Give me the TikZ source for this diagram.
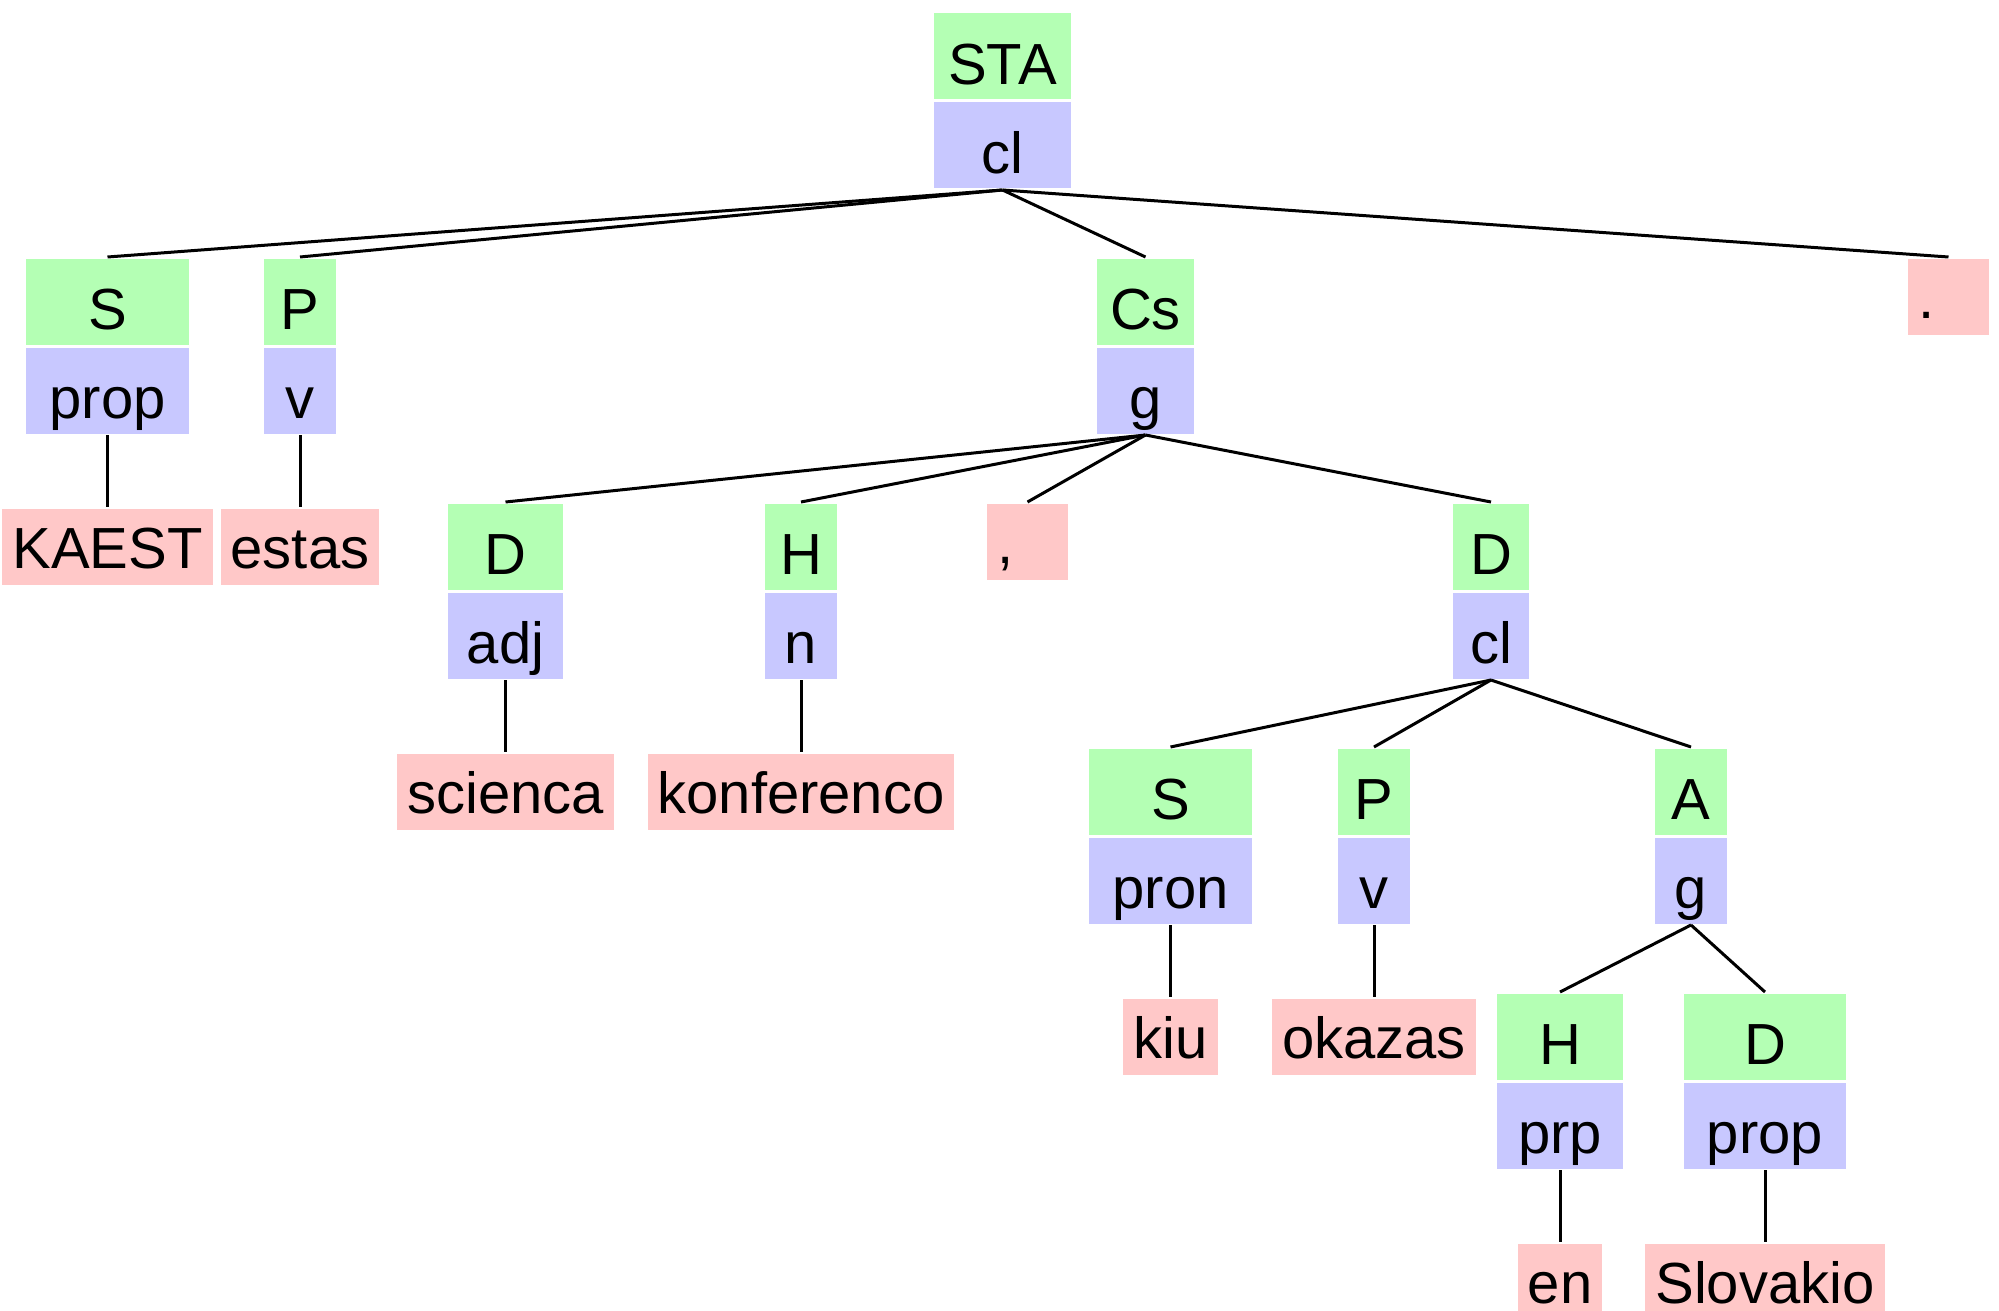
\documentclass[tikz,border=0pt]{standalone}
\usepackage{fontspec}
\setmainfont{Liberation Sans}
\usetikzlibrary{positioning}
\definecolor{FuncCol}{RGB}{180,255,180}
\definecolor{CatCol}{RGB}{200,200,255}
\definecolor{WordCol}{RGB}{255,200,200}
\tikzstyle{FuncNode}=[fill=FuncCol, anchor=north, minimum height=43pt, inner sep=0pt, text height=28pt, text depth=0pt]
\tikzstyle{CatNode}=[fill=CatCol, minimum height=43pt, inner sep=0pt, text height=28pt, text depth=0pt]
\tikzstyle{WordNode}=[fill=WordCol, minimum height=38pt, minimum width=40.5pt, inner xsep=5pt, inner ysep=0pt, text height=22pt, text depth=0pt]
\tikzstyle{PunctNode}=[WordNode, anchor=north, text width=30.5pt]

\begin{document}
\begin{tikzpicture}[x=0.5pt, y=-0.5pt, node distance=36pt, line width=1.5pt, font=\fontsize{29}{36}\selectfont]
      \useasboundingbox (0,0) rectangle (1999,1311);
      % clause
      \node[FuncNode, minimum width=68.5pt] (sta) at (1002.5,12) {STA};
      \node[CatNode, minimum width=68.5pt] (sta-c) [below=0pt of sta] {cl};
      \node[FuncNode, minimum width=81.5pt] (subj) at (107.5,257) {S};
      \node[CatNode, minimum width=81.5pt] (subj-c) [below=0pt of subj] {prop};
      \node[FuncNode, minimum width=36pt] (pred) at (300,257) {P};
      \node[CatNode, minimum width=36pt] (pred-c) [below=0pt of pred] {v};
      \node[FuncNode, minimum width=48.5pt] (cs) at (1145.5,257) {Cs};
      \node[CatNode, minimum width=48.5pt] (cs-c) [below=0pt of cs] {g};
      \node[PunctNode] (stop) at (1948.5,257) {.};
      \node[WordNode] (kaest) [below=of subj-c] {KAEST};
      \node[WordNode] (estas) [below=of pred-c] {estas};
      % subject complement
      \node[FuncNode, minimum width=57.5pt] (dadj) at (505.5,502) {D};
      \node[CatNode, minimum width=57.5pt] (dadj-c) [below=0pt of dadj] {adj};
      \node[FuncNode, minimum width=36pt] (hn) at (801,502) {H};
      \node[CatNode, minimum width=36pt] (hn-c) [below=0pt of hn] {n};
      \node[PunctNode] (comma) at (1027.5,502) {,};
      \node[FuncNode, minimum width=38pt] (dcl) at (1491,502) {D};
      \node[CatNode, minimum width=38pt] (dcl-c) [below=0pt of dcl] {cl};
      \node[WordNode] (scienca) [below=of dadj-c] {scienca};
      \node[WordNode] (konferenco) [below=of hn-c] {konferenco};
      % relative clause
      \node[FuncNode, minimum width=81.5pt] (spron) at (1170.5,747) {S};
      \node[CatNode, minimum width=81.5pt] (spron-c) [below=0pt of spron] {pron};
      \node[FuncNode, minimum width=36pt] (pv) at (1374,747) {P};
      \node[CatNode, minimum width=36pt] (pv-c) [below=0pt of pv] {v};
      \node[FuncNode, minimum width=36pt] (ag) at (1691,747) {A};
      \node[CatNode, minimum width=36pt] (ag-c) [below=0pt of ag] {g};
      \node[WordNode] (kiu) [below=of spron-c] {kiu};
      \node[WordNode] (okazas) [below=of pv-c] {okazas};
      \node[FuncNode, minimum width=63pt] (hprp) at (1560,992) {H};
      \node[CatNode, minimum width=63pt] (hprp-c) [below=0pt of hprp] {prp};
      \node[FuncNode, minimum width=81pt] (dprop) at (1765,992) {D};
      \node[CatNode, minimum width=81pt] (dprop-c) [below=0pt of dprop] {prop};
      \node[WordNode] (en) [below=of hprp-c] {en};
      \node[WordNode] (slovakio) [below=of dprop-c] {Slovakio};
      % branches
      \draw (sta-c.south) -- (subj.north);
      \draw (sta-c.south) -- (pred.north);
      \draw (sta-c.south) -- (cs.north);
      \draw (sta-c.south) -- (stop.north);
      \draw (subj-c.south) -- (kaest.north);
      \draw (pred-c.south) -- (estas.north);
      \draw (cs-c.south) -- (dadj.north);
      \draw (cs-c.south) -- (hn.north);
      \draw (cs-c.south) -- (comma.north);
      \draw (cs-c.south) -- (dcl.north);
      \draw (dadj-c.south) -- (scienca.north);
      \draw (hn-c.south) -- (konferenco.north);
      \draw (dcl-c.south) -- (spron.north);
      \draw (dcl-c.south) -- (pv.north);
      \draw (dcl-c.south) -- (ag.north);
      \draw (spron-c.south) -- (kiu.north);
      \draw (pv-c.south) -- (okazas.north);
      \draw (ag-c.south) -- (hprp.north);
      \draw (ag-c.south) -- (dprop.north);
      \draw (hprp-c.south) -- (en.north);
      \draw (dprop-c.south) -- (slovakio.north);
\end{tikzpicture}
\end{document}
